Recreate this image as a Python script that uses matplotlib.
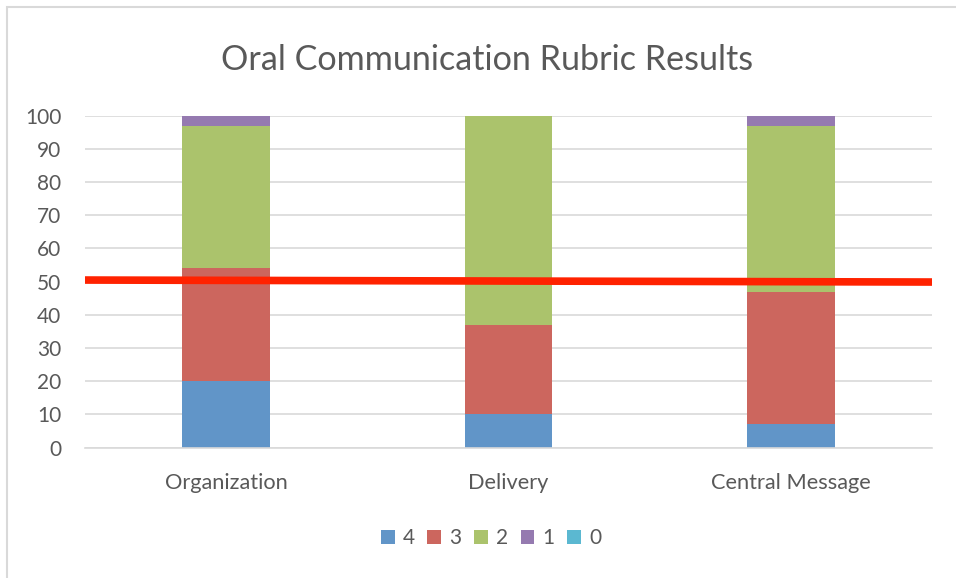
import matplotlib.pyplot as plt
from matplotlib.patches import Rectangle

categories = ["Organization", "Delivery", "Central Message"]
series_names = ["4", "3", "2", "1", "0"]
score_4 = [20, 10, 7]
score_3 = [34, 27, 40]
score_2 = [43, 63, 50]
score_1 = [3, 0, 3]
score_0 = [0, 0, 0]
red_line_y = [50.5, 49.9]

colors = ["#6195c8", "#cc665e", "#abc36c", "#957ab0", "#5bb8d1"]
text_color = "#595959"
grid_color = "#d9d9d9"

plt.rcParams['font.family'] = ['Lato', 'DejaVu Sans']

fig = plt.figure(figsize=(9.56, 5.78), dpi=100)
ax = fig.add_axes([85 / 956, 1 - 447.7 / 578, (932 - 85) / 956, (447.7 - 115.7) / 578])

# outer chart frame (only top/left edges visible in the reference)
fig.patches.append(Rectangle((6.5 / 956, -0.1), 1.2, 1 - 6.5 / 578 + 0.1,
                             transform=fig.transFigure, fill=False,
                             edgecolor=grid_color, linewidth=1.5))

x = range(len(categories))
bottom = [0, 0, 0]
for name, vals, c in zip(series_names, [score_4, score_3, score_2, score_1, score_0], colors):
    ax.bar(x, vals, bottom=bottom, width=0.31, color=c, label=name, zorder=2)
    bottom = [b + v for b, v in zip(bottom, vals)]

ax.plot([-0.5, 2.5], red_line_y, color="#ff2200", linewidth=5.5, zorder=3,
        solid_capstyle='butt')

ax.set_xlim(-0.5, 2.5)
ax.set_ylim(0, 100)
ax.set_yticks(range(0, 101, 10))
ax.set_xticks(list(x))
ax.set_xticklabels(categories, fontsize=15.7)
ax.yaxis.grid(True, color=grid_color, linewidth=1.2, zorder=0)
ax.set_axisbelow(True)
for s in ["top", "right", "left"]:
    ax.spines[s].set_visible(False)
ax.spines["bottom"].set_color(grid_color)
ax.spines["bottom"].set_linewidth(1.2)
ax.tick_params(axis='both', length=0, colors=text_color)
ax.tick_params(axis='y', pad=17, labelsize=15)
ax.tick_params(axis='x', pad=18)

fig.text(487 / 956, 1 - 60 / 578, "Oral Communication Rubric Results",
         ha='center', va='center', fontsize=24.6, color=text_color)

leg = fig.legend(loc='center', bbox_to_anchor=(491 / 956, 1 - 538 / 578), ncol=5,
                 frameon=False, fontsize=15, handlelength=0.65, handleheight=0.65,
                 handletextpad=0.4, columnspacing=0.6, labelcolor=text_color)

fig.savefig("out.png", dpi=100)
